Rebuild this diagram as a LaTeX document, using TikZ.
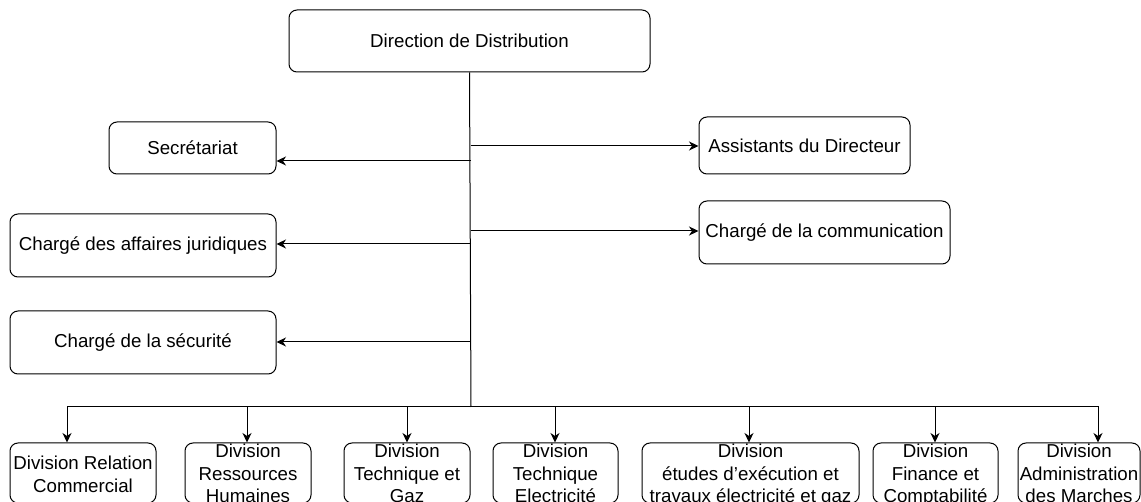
\documentclass[tikz,border=0pt]{standalone}
\usepackage{fontspec}
\setmainfont{Liberation Sans}
\usetikzlibrary{arrows.meta}

\tikzset{
  box/.style={draw=black, line width=1pt, rounded corners=8pt, inner sep=0pt,
              fill=white, font=\fontsize{18.7}{22.5}\selectfont},
  divbox/.style={box, minimum height=60pt},
  divtext/.style={align=center, inner sep=0pt, font=\fontsize{18.7}{22.5}\selectfont,
                  execute at begin node=\strut, execute at end node=\strut},
  link/.style={draw=black, line width=1pt},
  arr/.style={link, -{Stealth[length=9.5pt, width=9pt, inset=3pt]}},
}

\begin{document}
\begin{tikzpicture}[x=1pt, y=-1pt]
  \useasboundingbox (0,0) rectangle (1141,502);
  \clip (0,0) rectangle (1141,502);

  % head of the organisation
  \node[box, minimum width=361pt, minimum height=62pt] (dir) at (469.5,41) {Direction de Distribution};

  % staff positions, left
  \node[box, minimum width=167pt, minimum height=52pt] (sec)  at (192.5,148)  {Secrétariat};
  \node[box, minimum width=266pt, minimum height=63pt] (jur)  at (143,245.5)  {Chargé des affaires juridiques};
  \node[box, minimum width=266pt, minimum height=63pt] (secu) at (143,342.5)  {Chargé de la sécurité};

  % staff positions, right
  \node[box, minimum width=211pt, minimum height=57pt] (asst) at (804.5,145.5) {Assistants du Directeur};
  \node[box, minimum width=251pt, minimum height=63pt] (comm) at (824.5,232.5) {Chargé de la communication};

  % divisions
  \node[divbox, minimum width=146pt] (b1) at (83,473)     {};
  \node[divbox, minimum width=126pt] (b2) at (248,473)    {};
  \node[divbox, minimum width=126pt] (b3) at (407,473)    {};
  \node[divbox, minimum width=125pt] (b4) at (555.5,473)  {};
  \node[divbox, minimum width=217pt] (b5) at (750.5,473)  {};
  \node[divbox, minimum width=125pt] (b6) at (935.5,473)  {};
  \node[divbox, minimum width=122pt] (b7) at (1079,473)   {};

  \node[divtext] (b1t) at ([yshift=-4.5pt]b1.center) {Division Relation\\Commercial};
  \node[divtext] (b2t) at ([yshift=-4pt]b2.center) {Division\\Ressources\\Humaines};
  \node[divtext] (b3t) at ([yshift=-4pt]b3.center) {Division\\Technique et\\Gaz};
  \node[divtext] (b4t) at ([yshift=-4pt]b4.center) {Division\\Technique\\Electricité};
  \node[divtext] (b5t) at ([yshift=-4pt]b5.center) {Division\\études d’exécution et\\travaux électricité et gaz};
  \node[divtext] (b6t) at ([yshift=-4pt]b6.center) {Division\\Finance et\\Comptabilité};
  \node[divtext] (b7t) at ([yshift=-4pt]b7.center) {Division\\Administration\\des Marches};

  % main trunk
  \coordinate (hub) at (471,407);
  \draw[link] (dir.south) -- (hub);

  % branches off the trunk
  \coordinate (tA) at (470.5,146);
  \coordinate (tS) at (471,161);
  \coordinate (tC) at (470.5,231);
  \coordinate (tJ) at (471,244);
  \coordinate (tK) at (470,342);

  \draw[arr] (tA) -- (asst.west |- tA);
  \draw[arr] (tC) -- (comm.west |- tC);
  \draw[arr] (tS) -- (sec.east |- tS);
  \draw[arr] (tJ) -- (jur.east |- tJ);
  \draw[arr] (tK) -- (secu.east |- tK);

  % distribution bar to the divisions
  \draw[arr] (hub) -| (67,0 |- b1.north);
  \draw[arr] (hub) -| (247,0 |- b2.north);
  \draw[arr] (hub) -| (407,0 |- b3.north);
  \draw[arr] (hub) -| (555,0 |- b4.north);
  \draw[arr] (hub) -| (749,0 |- b5.north);
  \draw[arr] (hub) -| (935,0 |- b6.north);
  \draw[arr] (hub) -| (1098,0 |- b7.north);
\end{tikzpicture}
\end{document}
